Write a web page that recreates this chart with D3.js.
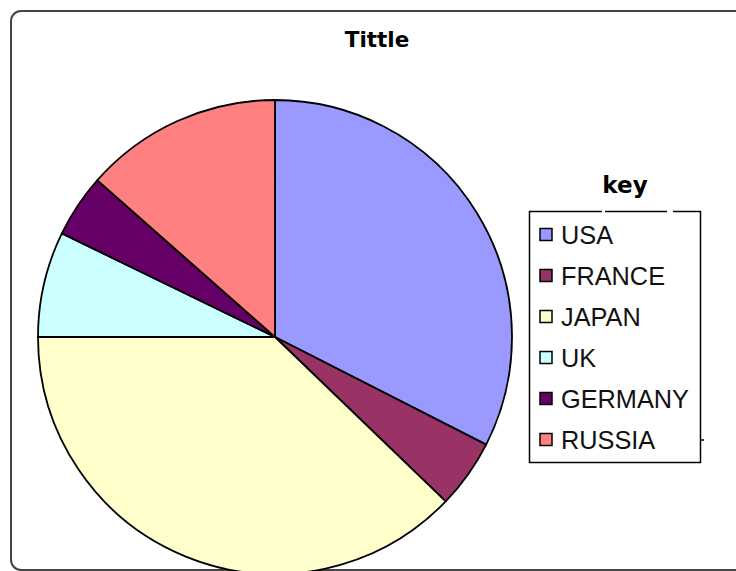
<!DOCTYPE html>
<html><head><meta charset="utf-8">
<script src="https://cdn.jsdelivr.net/npm/d3@7"></script>
<style>body{margin:0;background:#fff}svg{display:block}</style>
</head><body>
<svg id="c" width="736" height="571"></svg>
<script>
const categories = ["USA","FRANCE","JAPAN","UK","GERMANY","RUSSIA"];
const values = [325, 47, 378, 72, 43, 135];
const colors = ["#9999FF","#993366","#FFFFCC","#CCFFFF","#660066","#FF8080"];
const title = "Tittle";
const legendTitle = "key";

const svg = d3.select("#c");
// chart frame
svg.append("rect").attr("x",11).attr("y",11).attr("width",800).attr("height",559)
  .attr("rx",10).attr("fill","#fff").attr("stroke","#444").attr("stroke-width",2);

svg.append("text").attr("x",377).attr("y",47).attr("text-anchor","middle")
  .attr("font-family","DejaVu Sans").attr("font-weight","bold").attr("font-size",21.5)
  .attr("fill","#000").text(title);

const cx = 275, cy = 337, r = 237;
const pie = d3.pie().sort(null).value(d=>d)(values);
const arc = d3.arc().innerRadius(0).outerRadius(r);
svg.append("g").attr("transform",`translate(${cx},${cy})`)
  .selectAll("path").data(pie).join("path")
  .attr("d",arc).attr("fill",(d,i)=>colors[i])
  .attr("stroke","#000").attr("stroke-width",1.8).attr("stroke-linejoin","round");

// legend
svg.append("text").attr("x",625).attr("y",193).attr("text-anchor","middle")
  .attr("font-family","DejaVu Sans").attr("font-weight","bold").attr("font-size",23)
  .attr("fill","#000").text(legendTitle);
const lg = svg.append("g");
lg.append("rect").attr("x",529.5).attr("y",211.5).attr("width",171).attr("height",251)
  .attr("fill","#fff").attr("stroke","#000").attr("stroke-width",1.5);
// small gaps in top border
[[602,605],[667,673]].forEach(g=>lg.append("rect").attr("x",g[0]).attr("y",209).attr("width",g[1]-g[0]).attr("height",5).attr("fill","#fff"));
lg.append("line").attr("x1",700).attr("x2",704).attr("y1",440).attr("y2",440).attr("stroke","#000").attr("stroke-width",1.5);

const ly = d3.scalePoint().domain(categories).range([235,440]);
categories.forEach((c,i)=>{
  lg.append("rect").attr("x",540).attr("y",ly(c)-6.5).attr("width",12).attr("height",12)
    .attr("fill",colors[i]).attr("stroke","#000").attr("stroke-width",1.5);
  lg.append("text").attr("x",561).attr("y",ly(c)+9).attr("font-family","Liberation Sans, Arial")
    .attr("font-size",25.3).attr("fill","#111").text(c);
});
</script>
</body></html>
